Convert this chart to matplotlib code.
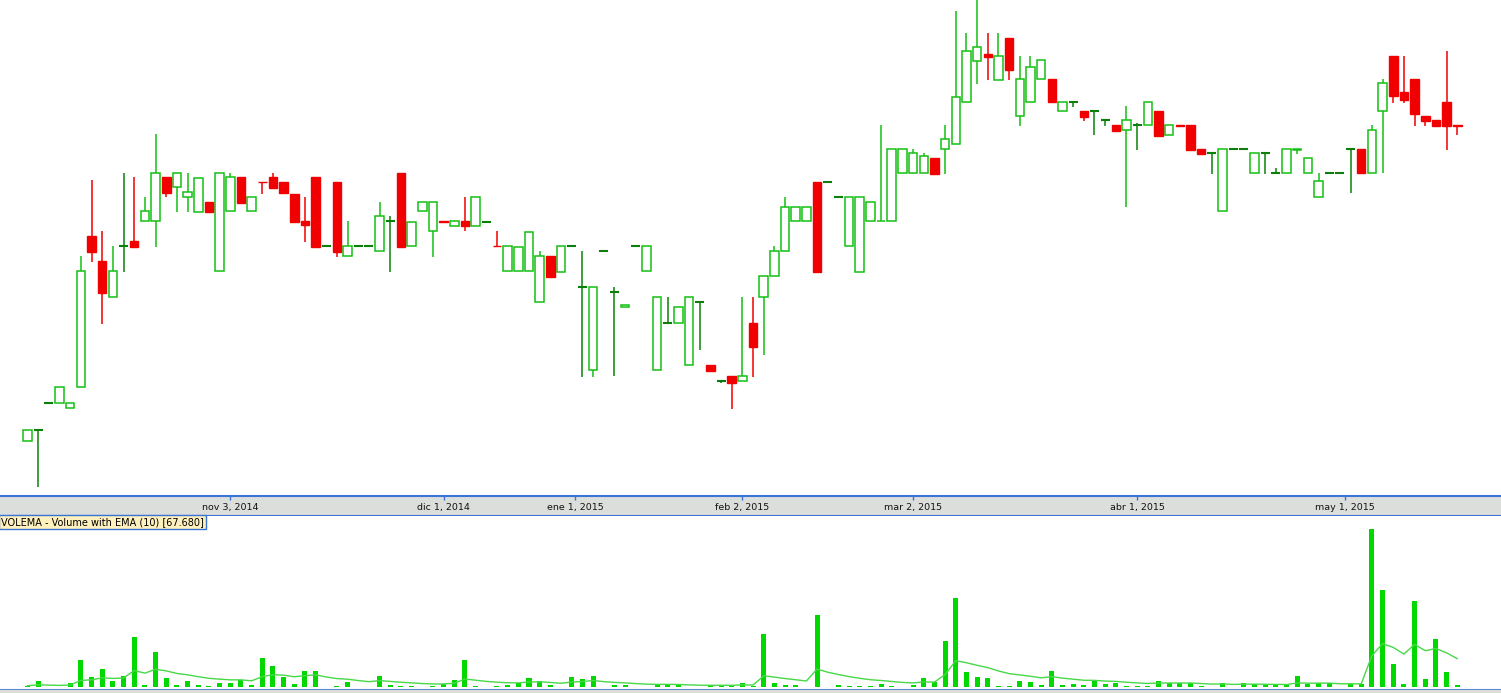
import numpy as np
import pandas as pd
import matplotlib
matplotlib.use('Agg')
import matplotlib.pyplot as plt
from matplotlib.patches import Rectangle

# daily candles (price units)
opens = [3.18, 3.40, 3.94, 3.94, 3.84, 4.26, 7.28, 6.78, 6.06, 7.08,
         7.18, 7.58, 7.58, 8.46, 8.26, 8.06, 7.76, 7.96, 6.58, 7.78,
         8.46, 7.78, 8.37, 8.46, 8.36, 8.12, 7.58, 8.46, 7.08, 8.36,
         6.88, 7.08, 7.08, 6.98, 7.58, 8.54, 7.08, 7.78, 7.38, 7.58,
         7.48, 7.58, 7.48, 7.56, 7.09, 6.58, 6.58, 6.58, 5.96, 6.88,
         6.56, 7.08, 6.26, 4.60, 6.98, 6.16, 5.86, 7.08, 6.58, 4.60,
         5.54, 5.54, 4.70, 5.96, 4.70, 4.38, 4.48, 4.38, 5.54, 6.06,
         6.48, 6.98, 7.58, 7.58, 8.36, 8.36, 8.06, 7.08, 6.56, 7.58,
         7.58, 7.58, 8.54, 8.54, 8.54, 8.84, 9.02, 9.12, 9.96, 10.78,
         10.92, 10.40, 11.24, 9.68, 9.96, 10.42, 10.42, 9.78, 9.96, 9.78,
         9.78, 9.60, 9.50, 9.40, 9.50, 9.50, 9.78, 9.30, 9.50, 9.50,
         9.02, 8.94, 7.78, 9.02, 9.02, 8.54, 8.94, 8.54, 8.54, 9.00,
         8.54, 8.06, 8.54, 8.54, 9.02, 9.02, 8.54, 9.78, 10.88, 10.16,
         10.42, 9.68, 9.60, 9.96, 9.49]
closes = [3.40, 3.40, 3.94, 4.26, 3.94, 6.58, 6.96, 6.14, 6.58, 7.08,
          7.06, 7.78, 8.54, 8.14, 8.54, 8.16, 8.44, 7.76, 8.54, 8.46,
          7.94, 8.06, 8.36, 8.24, 8.14, 7.56, 7.50, 7.06, 7.08, 6.96,
          7.08, 7.08, 7.08, 7.68, 7.58, 7.06, 7.56, 7.96, 7.96, 7.56,
          7.58, 7.48, 8.06, 7.56, 7.08, 7.08, 7.06, 7.36, 6.88, 6.46,
          7.08, 7.08, 6.26, 6.26, 6.98, 6.16, 5.90, 7.08, 7.08, 6.06,
          5.54, 5.86, 6.06, 5.96, 4.58, 4.38, 4.34, 4.48, 5.06, 6.48,
          6.98, 7.86, 7.86, 7.86, 6.56, 8.36, 8.06, 8.06, 8.06, 7.96,
          7.59, 9.02, 9.02, 8.94, 8.88, 8.52, 9.22, 10.06, 10.98, 11.06,
          10.86, 10.88, 10.60, 10.42, 10.66, 10.80, 9.96, 9.96, 9.96, 9.66,
          9.78, 9.60, 9.38, 9.60, 9.50, 9.96, 9.28, 9.50, 9.48, 9.00,
          8.92, 8.94, 9.02, 9.02, 9.02, 8.94, 8.94, 8.54, 9.02, 9.02,
          8.84, 8.38, 8.54, 8.54, 9.02, 8.54, 9.40, 10.34, 10.08, 10.00,
          9.72, 9.58, 9.48, 9.48, 9.48]
highs = [3.40, 3.40, 3.94, 4.26, 3.94, 6.88, 8.40, 7.38, 7.08, 8.54,
         8.46, 8.06, 9.32, 8.46, 8.54, 8.54, 8.44, 7.96, 8.54, 8.54,
         8.46, 8.06, 8.37, 8.54, 8.36, 8.12, 8.06, 8.46, 7.08, 8.36,
         7.58, 7.08, 7.08, 7.96, 7.68, 8.54, 7.56, 7.96, 7.96, 7.58,
         7.58, 8.06, 8.06, 7.56, 7.38, 7.08, 7.06, 7.36, 6.98, 6.88,
         7.08, 7.08, 6.98, 6.26, 6.98, 6.26, 5.90, 7.08, 7.08, 6.06,
         6.06, 5.86, 6.06, 5.96, 4.70, 4.38, 4.48, 6.06, 6.06, 6.48,
         7.08, 8.06, 7.86, 7.86, 8.36, 8.36, 8.06, 8.06, 8.06, 7.96,
         9.50, 9.02, 9.02, 9.02, 8.94, 8.84, 9.50, 11.78, 11.34, 12.10,
         11.34, 11.34, 11.24, 10.88, 10.88, 10.80, 10.42, 9.96, 9.96, 9.78,
         9.78, 9.60, 9.50, 9.88, 9.54, 9.96, 9.78, 9.50, 9.50, 9.50,
         9.02, 8.94, 9.02, 9.02, 9.02, 8.94, 8.94, 8.64, 9.02, 9.02,
         8.84, 8.54, 8.56, 8.54, 9.02, 9.02, 9.50, 10.42, 10.88, 10.88,
         10.42, 9.68, 9.60, 10.98, 9.49]
lows = [3.18, 2.26, 3.94, 3.94, 3.84, 4.26, 6.76, 5.52, 6.06, 6.56,
        7.06, 7.58, 7.06, 8.06, 7.76, 7.76, 7.76, 7.76, 6.58, 7.78,
        7.94, 7.78, 8.12, 8.24, 8.14, 7.56, 7.16, 7.06, 7.08, 6.86,
        6.88, 7.08, 7.08, 6.98, 6.56, 7.06, 7.08, 7.78, 6.86, 7.56,
        7.48, 7.38, 7.48, 7.56, 7.08, 6.58, 6.58, 6.58, 5.96, 6.46,
        6.56, 7.08, 4.46, 4.46, 6.98, 4.48, 5.86, 7.08, 6.58, 4.60,
        5.54, 5.54, 4.70, 5.00, 4.58, 4.34, 3.82, 4.38, 4.46, 4.90,
        6.48, 6.98, 7.58, 7.58, 6.56, 8.36, 8.06, 7.08, 6.56, 7.58,
        7.58, 7.58, 8.54, 8.54, 8.54, 8.52, 8.52, 9.12, 9.96, 10.32,
        10.40, 10.40, 10.40, 9.48, 9.96, 10.42, 9.96, 9.78, 9.86, 9.58,
        9.30, 9.48, 9.38, 7.86, 9.00, 9.50, 9.28, 9.30, 9.48, 9.00,
        8.90, 8.52, 7.78, 9.02, 9.02, 8.54, 8.52, 8.54, 8.54, 8.92,
        8.54, 8.06, 8.54, 8.54, 8.14, 8.52, 8.54, 8.54, 9.94, 9.94,
        9.48, 9.48, 9.48, 9.00, 9.30]
volumes = [2400, 14500, 0, 0, 9000, 64600, 23500, 42800, 13800, 25900,
           120300, 4100, 84000, 21100, 4100, 13800, 4100, 2400, 9000, 9000,
           16200, 4100, 69500, 50100, 23500, 6500, 38000, 38000, 0, 2400,
           11400, 0, 0, 25900, 4100, 2400, 2400, 0, 2400, 6500,
           16200, 64600, 2400, 0, 2400, 3100, 8000, 21100, 13800, 3100,
           0, 23500, 18600, 25900, 0, 3100, 3100, 0, 0, 3100,
           6500, 3100, 0, 0, 3100, 3100, 3100, 9000, 1700, 127500,
           9000, 4100, 4100, 0, 173500, 0, 4100, 1700, 1700, 1700,
           6500, 1700, 0, 4100, 21100, 10400, 110600, 214700, 35600, 23500,
           21100, 1700, 2400, 13800, 11400, 4100, 38000, 4100, 6500, 4100,
           13800, 6500, 9000, 1700, 1700, 1700, 13800, 9000, 9000, 9000,
           1700, 0, 9000, 0, 9000, 6500, 4100, 4100, 4100, 25900,
           6500, 9000, 9000, 0, 6500, 6500, 381600, 234000, 54900, 6500,
           207400, 18600, 115400, 35600, 4100]

# date ticks (bar positions)
tick_pos = [19, 39, 51.3, 67, 83, 104, 123.5]
tick_labels = ['nov 3, 2014', 'dic 1, 2014', 'ene 1, 2015', 'feb 2, 2015',
               'mar 2, 2015', 'abr 1, 2015', 'may 1, 2015']

RED = '#f00000'
GREEN = '#14c014'
DKGREEN = '#0a800a'
VOLGREEN = '#00d800'
BLUE = '#3a74d4'
GREY = '#dcdedc'

o = np.array(opens)
c = np.array(closes)
h = np.array(highs)
l = np.array(lows)
v = np.array(volumes, dtype=float)
x = np.arange(len(o))
ema = pd.Series(v).ewm(span=10, adjust=False).mean()

H = 693.0
XLIM = (-2.58, 138.1)

fig = plt.figure(figsize=(15.01, 6.93), dpi=100, facecolor='white')

# price panel
ax = fig.add_axes([0, 1 - 496 / H, 1, 496 / H])
ax.set_xlim(*XLIM)
ax.set_ylim(2.08, 12.0)
ax.axis('off')

up = c > o
down = c < o
flat = c == o
wick_col = np.where(down, RED, np.where(up, GREEN, DKGREEN))
ax.vlines(x, l, h, colors=list(wick_col), lw=1.1, zorder=1)
ax.bar(x[up], (c - o)[up], bottom=o[up], width=0.8, facecolor='white',
       edgecolor=GREEN, lw=1.1, zorder=2)
ax.bar(x[down], (o - c)[down], bottom=c[down], width=0.8, facecolor=RED,
       edgecolor=RED, lw=1.0, zorder=2)
ax.hlines(o[flat], x[flat] - 0.42, x[flat] + 0.42, colors=DKGREEN, lw=1.5, zorder=2)

# date band
band = fig.add_axes([0, 1 - 516 / H, 1, 20 / H])
band.set_xlim(*XLIM)
band.set_ylim(0, 1)
band.set_facecolor(GREY)
for s in ['left', 'right']:
    band.spines[s].set_visible(False)
for s in ['top', 'bottom']:
    band.spines[s].set_color(BLUE)
    band.spines[s].set_linewidth(1.5)
band.set_yticks([])
band.set_xticks(tick_pos)
band.tick_params(axis='x', direction='in', top=True, bottom=False,
                 labelbottom=False, length=3, color=BLUE, width=1)
for p, lab in zip(tick_pos, tick_labels):
    band.text(p, 0.42, lab, ha='center', va='center', fontsize=6.8, color='#111111')

# volume panel
axv = fig.add_axes([0, 3 / H, 1, 174 / H])
axv.set_xlim(*XLIM)
axv.set_ylim(-8000, 413000)
axv.bar(x, v, width=0.47, color=VOLGREEN, zorder=2)
axv.plot(x, ema, color='#48d848', lw=1.0, zorder=3)
for s in ['left', 'right', 'top']:
    axv.spines[s].set_visible(False)
axv.spines['bottom'].set_color(BLUE)
axv.spines['bottom'].set_linewidth(1.5)
axv.set_xticks([])
axv.set_yticks([])
axv.text(0.0008, 0.993, 'VOLEMA - Volume with EMA (10) [67.680]',
         transform=axv.transAxes, ha='left', va='top', fontsize=7,
         bbox=dict(boxstyle='square,pad=0.2', facecolor='#fff1bd',
                   edgecolor=BLUE, lw=1))

fig.patches.append(Rectangle((0, 0), 1, 3 / H, transform=fig.transFigure,
                             color=GREY, zorder=0))

fig.savefig('out.png', dpi=100)
